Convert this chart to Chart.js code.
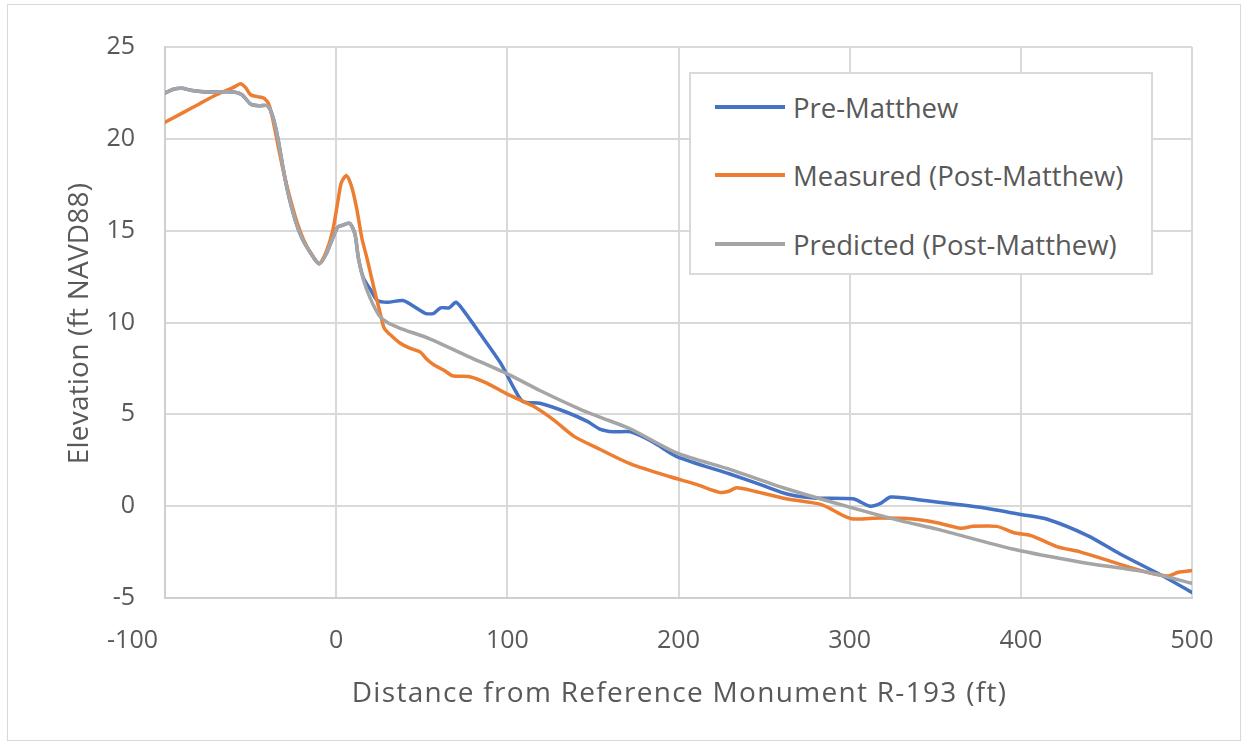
<!DOCTYPE html>
<html>
<head>
<meta charset="utf-8">
<script src="https://cdn.jsdelivr.net/npm/chart.js@4/dist/chart.umd.min.js"></script>
<style>
  html, body { margin: 0; padding: 0; background: #fff; }
  #wrap { position: relative; width: 1249px; height: 749px; overflow: hidden; }
  #c { position: absolute; left: 0; top: 0; }
  #frame { position: absolute; left: 7px; top: 4px; width: 1232px; height: 735px; border: 1px solid #d9d9d9; pointer-events: none; }
  #legend { position: absolute; left: 689px; top: 72px; width: 460px; height: 199px; border: 2px solid #d9d9d9; background: #fff;
            font-family: "Open Sans", sans-serif; font-size: 27.5px; color: #595959; }
  .row { position: absolute; left: 0; height: 40px; display: flex; align-items: center; white-space: nowrap; }
  .sw { width: 70px; height: 4px; margin-left: 24px; margin-right: 8px; flex: none; }
</style>
</head>
<body>
<div id="wrap">
  <canvas id="c" width="1249" height="749"></canvas>
  <div id="frame"></div>
  <div id="legend"></div>
</div>
<script>
// ---- data ----
const seriesNames = ["Pre-Matthew", "Measured (Post-Matthew)", "Predicted (Post-Matthew)"];
const seriesColors = ["#4472C4", "#ED7D31", "#A5A5A5"];

const preX = [-100, -95, -90, -85, -75, -60, -55, -50, -45, -40, -37, -34, -31, -28, -24, -20, -15, -10, -6, -2, 1, 4, 8, 11, 13, 16, 20, 24, 30, 39, 45, 52, 57, 61, 66, 70, 74, 84, 96, 104, 109, 119, 135, 147, 154, 162, 172, 185, 199, 230, 250, 264, 279, 302, 307, 312, 318, 324, 340, 375, 400, 415, 439, 458, 483, 500];
const preY = [22.5, 22.7, 22.75, 22.65, 22.55, 22.55, 22.4, 21.9, 21.8, 21.8, 21.2, 20.0, 18.4, 17.0, 15.6, 14.6, 13.8, 13.2, 13.7, 14.6, 15.2, 15.3, 15.4, 14.8, 13.5, 12.4, 11.8, 11.2, 11.1, 11.2, 10.9, 10.5, 10.5, 10.8, 10.8, 11.1, 10.7, 9.4, 7.8, 6.4, 5.7, 5.6, 5.1, 4.6, 4.2, 4.05, 4.05, 3.5, 2.7, 1.75, 1.1, 0.65, 0.45, 0.4, 0.2, 0.0, 0.15, 0.5, 0.35, -0.05, -0.45, -0.7, -1.6, -2.6, -3.8, -4.7];

const measX = [-100, -90, -80, -70, -60, -56, -53, -50, -46, -42, -39, -36, -33, -30, -27, -23, -19, -15, -10, -6, -2, 1, 3, 6, 9, 12, 15, 18, 22, 26, 28, 32, 37, 43, 49, 53, 57, 63, 68, 78, 88, 100, 115, 127, 139, 154, 172, 195, 210, 224, 229, 234, 245, 263, 283, 290, 296, 302, 318, 337, 351, 365, 372, 386, 396, 406, 421, 435, 454, 474, 486, 492, 500];
const measY = [20.9, 21.4, 21.9, 22.4, 22.8, 23.0, 22.8, 22.4, 22.3, 22.2, 21.8, 20.6, 19.2, 17.9, 16.8, 15.5, 14.5, 13.8, 13.2, 13.8, 15.0, 16.6, 17.6, 18.0, 17.4, 16.2, 14.6, 13.5, 11.9, 10.4, 9.7, 9.3, 8.9, 8.6, 8.4, 8.0, 7.7, 7.4, 7.1, 7.05, 6.7, 6.1, 5.45, 4.7, 3.8, 3.1, 2.3, 1.6, 1.2, 0.75, 0.8, 1.0, 0.8, 0.4, 0.1, -0.2, -0.5, -0.7, -0.65, -0.7, -0.9, -1.2, -1.1, -1.1, -1.45, -1.6, -2.2, -2.5, -3.05, -3.6, -3.8, -3.6, -3.5];

const predX = [-100, -95, -90, -85, -75, -60, -55, -50, -45, -40, -37, -34, -31, -28, -24, -20, -15, -10, -6, -2, 1, 4, 8, 11, 13, 16, 20, 25, 30, 37, 55, 76, 100, 119, 142, 154, 172, 199, 230, 263, 300, 330, 351, 396, 435, 474, 500];
const predY = [22.5, 22.7, 22.75, 22.65, 22.55, 22.55, 22.4, 21.9, 21.8, 21.8, 21.2, 20.0, 18.4, 17.0, 15.6, 14.6, 13.8, 13.2, 13.7, 14.6, 15.2, 15.3, 15.4, 14.8, 13.5, 12.3, 11.3, 10.4, 10.0, 9.7, 9.1, 8.2, 7.2, 6.3, 5.3, 4.85, 4.2, 2.9, 2.0, 0.95, -0.05, -0.8, -1.25, -2.35, -3.05, -3.6, -4.2];

const xTicks = [-100, 0, 100, 200, 300, 400, 500];
const yTicks = [-5, 0, 5, 10, 15, 20, 25];

const xTitle = "Distance from Reference Monument R-193 (ft)";
const yTitle = "Elevation (ft NAVD88)";

// ---- build ----
const toPts = (xs, ys) => xs.map((x, i) => ({ x: x, y: ys[i] }));
const allX = [preX, measX, predX];
const allY = [preY, measY, predY];

const datasets = seriesNames.map((name, i) => ({
  label: name,
  data: toPts(allX[i], allY[i]),
  borderColor: seriesColors[i],
  backgroundColor: seriesColors[i],
  borderWidth: 3.5,
  pointRadius: 0,
  showLine: true,
  tension: 0.25,
  borderJoinStyle: 'round',
  borderCapStyle: 'round',
  order: 3 - i
}));

// HTML legend
const leg = document.getElementById('legend');
const rowTops = [13, 81, 150];
seriesNames.forEach((name, i) => {
  const r = document.createElement('div');
  r.className = 'row';
  r.style.top = rowTops[i] + 'px';
  const sw = document.createElement('div');
  sw.className = 'sw';
  sw.style.background = seriesColors[i];
  const t = document.createElement('span');
  t.textContent = name;
  r.appendChild(sw); r.appendChild(t);
  leg.appendChild(r);
});

const FONT = "'Open Sans', sans-serif";
const tickFont = { family: FONT, size: 25 };

// axis titles drawn with a touch of letter spacing (matches the wide reference text)
const titlePlugin = {
  id: 'axisTitles',
  afterDraw(chart) {
    const ctx = chart.ctx, a = chart.chartArea;
    ctx.save();
    ctx.fillStyle = '#595959';
    ctx.font = "28px " + FONT;
    ctx.textBaseline = 'alphabetic';
    ctx.textAlign = 'center';
    try { ctx.letterSpacing = '1.3px'; } catch (e) {}
    ctx.fillText(xTitle, (a.left + a.right) / 2 + 1, a.bottom + 104);
    try { ctx.letterSpacing = '0.2px'; } catch (e) {}
    ctx.translate(a.left - 77, (a.top + a.bottom) / 2 + 1);
    ctx.rotate(-Math.PI / 2);
    ctx.fillText(yTitle, 0, 0);
    ctx.restore();
  }
};

new Chart(document.getElementById('c'), {
  type: 'scatter',
  data: { datasets: datasets },
  plugins: [titlePlugin],
  options: {
    responsive: false,
    animation: false,
    layout: { padding: { left: 64, right: 57, top: 47, bottom: 42 } },
    plugins: { legend: { display: false }, tooltip: { enabled: false } },
    scales: {
      x: {
        type: 'linear', min: xTicks[0], max: xTicks[xTicks.length - 1],
        afterBuildTicks: s => { s.ticks = xTicks.map(v => ({ value: v })); },
        afterFit: s => { s.height = 109; },
        ticks: {
          color: '#595959', font: tickFont, padding: 28, maxRotation: 0,
          callback: v => (v === xTicks[0] ? String(v) + '\u00a0'.repeat(10) : String(v))
        },
        grid: { color: '#d9d9d9', lineWidth: 2, drawTicks: false },
        border: { display: true, color: '#cfcfcf', width: 2 }
      },
      y: {
        type: 'linear', min: yTicks[0], max: yTicks[yTicks.length - 1],
        afterBuildTicks: s => { s.ticks = yTicks.map(v => ({ value: v })); },
        afterFit: s => { s.width = 101; },
        ticks: { color: '#595959', font: tickFont, padding: 30 },
        grid: { color: '#d9d9d9', lineWidth: 2, drawTicks: false },
        border: { display: true, color: '#cfcfcf', width: 2 }
      }
    }
  }
});
</script>
</body>
</html>
